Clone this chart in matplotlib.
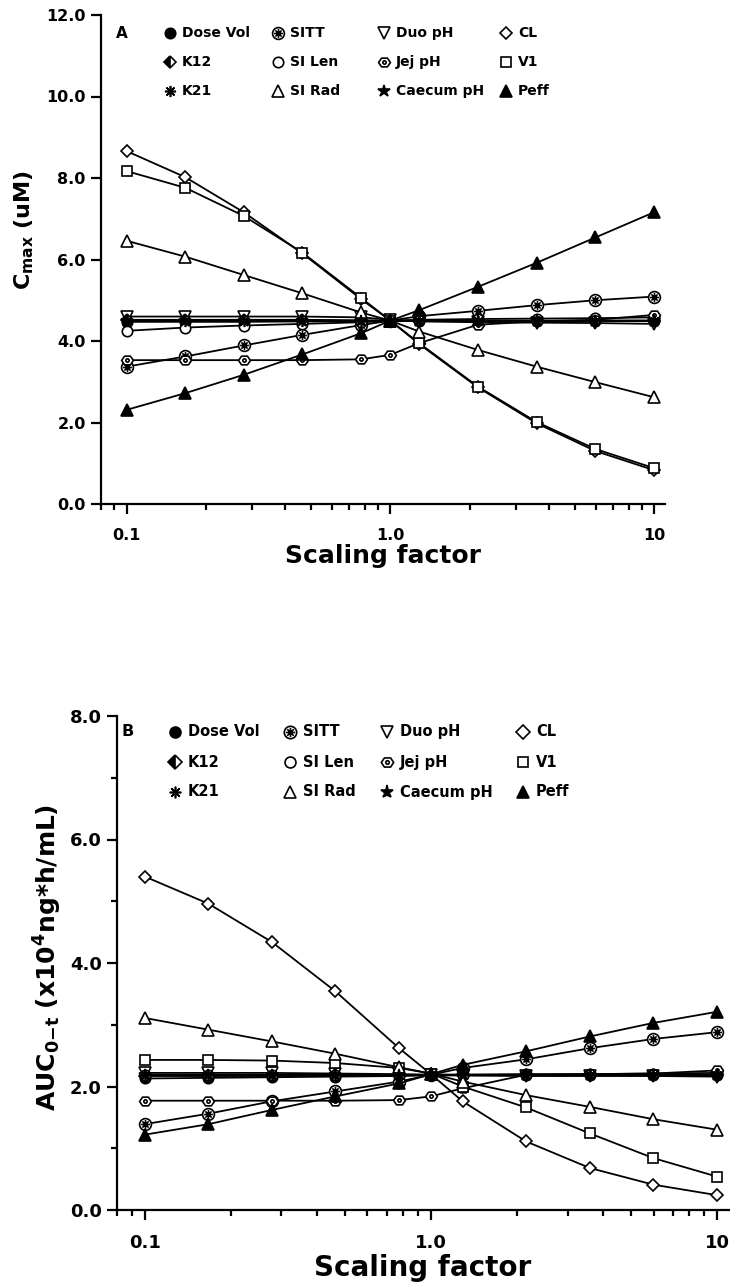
import numpy as np
import matplotlib
matplotlib.use('Agg')
import matplotlib.pyplot as plt
from matplotlib.path import Path
from matplotlib.lines import Line2D

plt.rcParams['font.family'] = ['DejaVu Sans']
plt.rcParams['font.weight'] = 'bold'
plt.rcParams['mathtext.fontset'] = 'dejavusans'

# ---------------- data ----------------
scaling = [0.1, 0.167, 0.278, 0.464, 0.774, 1.0, 1.29, 2.15, 3.59, 5.99, 10.0]
series_names = ['Dose Vol', 'SITT', 'Duo pH', 'CL',
                'K12', 'SI Len', 'Jej pH', 'V1',
                'K21', 'SI Rad', 'Caecum pH', 'Peff']

# Panel A: Cmax (uM)
cmax_dose_vol = [4.47, 4.47, 4.47, 4.48, 4.48, 4.49, 4.49, 4.49, 4.49, 4.50, 4.50]
cmax_sitt     = [3.37, 3.62, 3.89, 4.15, 4.39, 4.50, 4.61, 4.74, 4.88, 5.00, 5.09]
cmax_duo_ph   = [4.60, 4.60, 4.60, 4.60, 4.58, 4.52, 4.48, 4.46, 4.45, 4.44, 4.42]
cmax_cl       = [8.66, 8.02, 7.16, 6.15, 5.03, 4.50, 3.92, 2.86, 1.98, 1.30, 0.83]
cmax_k12      = [4.52, 4.52, 4.52, 4.52, 4.51, 4.50, 4.50, 4.50, 4.50, 4.50, 4.50]
cmax_si_len   = [4.25, 4.33, 4.38, 4.42, 4.46, 4.50, 4.52, 4.54, 4.55, 4.56, 4.58]
cmax_jej_ph   = [3.53, 3.53, 3.53, 3.53, 3.55, 3.66, 3.95, 4.40, 4.48, 4.52, 4.64]
cmax_v1       = [8.17, 7.76, 7.07, 6.17, 5.06, 4.50, 3.94, 2.88, 2.01, 1.35, 0.88]
cmax_k21      = [4.50, 4.50, 4.50, 4.50, 4.50, 4.50, 4.50, 4.50, 4.50, 4.50, 4.50]
cmax_si_rad   = [6.46, 6.07, 5.62, 5.17, 4.70, 4.50, 4.23, 3.78, 3.37, 2.99, 2.62]
cmax_caecum   = [4.49, 4.49, 4.49, 4.49, 4.49, 4.49, 4.49, 4.49, 4.49, 4.49, 4.49]
cmax_peff     = [2.31, 2.72, 3.17, 3.67, 4.19, 4.50, 4.76, 5.33, 5.92, 6.54, 7.16]

# Panel B: AUC0-t (x10^4 ng*h/mL)
auc_dose_vol = [2.13, 2.14, 2.15, 2.16, 2.17, 2.18, 2.18, 2.18, 2.18, 2.18, 2.18]
auc_sitt     = [1.39, 1.56, 1.76, 1.92, 2.08, 2.19, 2.30, 2.44, 2.62, 2.77, 2.88]
auc_duo_ph   = [2.22, 2.22, 2.22, 2.21, 2.20, 2.19, 2.18, 2.17, 2.17, 2.17, 2.16]
auc_cl       = [5.40, 4.96, 4.34, 3.54, 2.62, 2.20, 1.76, 1.11, 0.68, 0.41, 0.24]
auc_k12      = [2.17, 2.17, 2.17, 2.18, 2.18, 2.19, 2.19, 2.19, 2.19, 2.19, 2.19]
auc_si_len   = [2.19, 2.19, 2.19, 2.19, 2.19, 2.19, 2.19, 2.20, 2.20, 2.21, 2.22]
auc_jej_ph   = [1.77, 1.77, 1.77, 1.77, 1.78, 1.84, 1.97, 2.19, 2.20, 2.21, 2.26]
auc_v1       = [2.43, 2.43, 2.42, 2.38, 2.30, 2.21, 2.00, 1.66, 1.24, 0.84, 0.54]
auc_k21      = [2.18, 2.18, 2.18, 2.18, 2.18, 2.19, 2.19, 2.19, 2.19, 2.19, 2.19]
auc_si_rad   = [3.11, 2.92, 2.73, 2.53, 2.31, 2.21, 2.08, 1.86, 1.67, 1.47, 1.30]
auc_caecum   = [2.18, 2.18, 2.18, 2.18, 2.18, 2.18, 2.18, 2.18, 2.18, 2.18, 2.18]
auc_peff     = [1.22, 1.39, 1.62, 1.84, 2.05, 2.20, 2.35, 2.57, 2.81, 3.03, 3.21]

cmax_series = [cmax_dose_vol, cmax_sitt, cmax_duo_ph, cmax_cl,
               cmax_k12, cmax_si_len, cmax_jej_ph, cmax_v1,
               cmax_k21, cmax_si_rad, cmax_caecum, cmax_peff]
auc_series = [auc_dose_vol, auc_sitt, auc_duo_ph, auc_cl,
              auc_k12, auc_si_len, auc_jej_ph, auc_v1,
              auc_k21, auc_si_rad, auc_caecum, auc_peff]

x_ticks = [0.1, 1.0, 10.0]
x_ticklabels = ['0.1', '1.0', '10']
cmax_yticks = [0, 2, 4, 6, 8, 10, 12]
auc_yticks = [0, 2, 4, 6, 8]

# ---------------- custom markers ----------------
circ = Path.unit_circle()
sv, sc = [], []
for ang in (0, 45, 90, 135):
    a = np.deg2rad(ang)
    sv += [(-0.75 * np.cos(a), -0.75 * np.sin(a)), (0.75 * np.cos(a), 0.75 * np.sin(a))]
    sc += [Path.MOVETO, Path.LINETO]
sitt_marker = Path.make_compound_path(circ, Path(sv, sc))

hexv = [(np.cos(np.deg2rad(a)), 0.85 * np.sin(np.deg2rad(a))) for a in range(0, 360, 60)]
hexpath = Path(hexv + [hexv[0]], [Path.MOVETO] + [Path.LINETO] * 5 + [Path.CLOSEPOLY])
jej_marker = Path.make_compound_path(hexpath, Path.circle((0, 0), 0.28))

styles = {
    'Dose Vol': dict(marker='o', markerfacecolor='black', markersize=7.5),
    'SITT': dict(marker=sitt_marker, markerfacecolor='white', markersize=8.5),
    'Duo pH': dict(marker='v', markerfacecolor='white', markersize=8),
    'CL': dict(marker='D', markerfacecolor='white', markersize=6.5),
    'K12': dict(marker='D', fillstyle='left', markerfacecolor='black',
                markerfacecoloralt='white', markersize=6.5),
    'SI Len': dict(marker='o', markerfacecolor='white', markersize=7.5),
    'Jej pH': dict(marker=jej_marker, markerfacecolor='white', markersize=8.5),
    'V1': dict(marker='s', markerfacecolor='white', markersize=7.5),
    'K21': dict(marker=(8, 2, 0), markersize=8),
    'SI Rad': dict(marker='^', markerfacecolor='white', markersize=8.5),
    'Caecum pH': dict(marker='*', markerfacecolor='black', markersize=9),
    'Peff': dict(marker='^', markerfacecolor='black', markersize=8.5),
}

# ---------------- figure ----------------
W, H = 730, 1287
fig = plt.figure(figsize=(W / 100, H / 100), dpi=100)


def fx(x):
    return x / W


def fy(y):
    return 1 - y / H


axA = fig.add_axes([fx(101), fy(504), fx(665) - fx(101), fy(15) - fy(504)])
axB = fig.add_axes([fx(117), fy(1210), fx(729) - fx(117), fy(716) - fy(1210)])


def style_axis(ax, ylim, yticks, yminor, tick_fs):
    ax.set_xscale('log')
    ax.set_xlim(0.08, 11)
    ax.set_ylim(*ylim)
    for s in ('top', 'right'):
        ax.spines[s].set_visible(False)
    for s in ('left', 'bottom'):
        ax.spines[s].set_linewidth(1.6)
    ax.set_xticks(x_ticks)
    ax.set_xticklabels(x_ticklabels)
    ax.xaxis.set_minor_locator(matplotlib.ticker.LogLocator(base=10, subs=np.arange(2, 10)))
    ax.xaxis.set_minor_formatter(matplotlib.ticker.NullFormatter())
    ax.set_yticks(yticks)
    ax.set_yticklabels(['%.1f' % v for v in yticks])
    if yminor is not None:
        ax.set_yticks(yminor, minor=True)
    ax.tick_params(axis='both', which='major', direction='out', width=1.6,
                   length=7, labelsize=tick_fs, pad=4)
    ax.tick_params(axis='both', which='minor', direction='out', width=1.6, length=4)
    ax.tick_params(axis='x', which='major', pad=10)
    for lab in ax.get_xticklabels() + ax.get_yticklabels():
        lab.set_fontweight('bold')


style_axis(axA, (0, 12), cmax_yticks, None, 11.5)
style_axis(axB, (0, 8), auc_yticks, [1, 3, 5, 7], 13)

for name, vals in zip(series_names, cmax_series):
    axA.plot(scaling, vals, color='black', lw=1.3, markeredgecolor='black',
             markeredgewidth=1.2, clip_on=False, **styles[name])
for name, vals in zip(series_names, auc_series):
    axB.plot(scaling, vals, color='black', lw=1.3, markeredgecolor='black',
             markeredgewidth=1.2, clip_on=False, **styles[name])

# axis labels
fig.text(fx(383), fy(556), 'Scaling factor', fontsize=18, fontweight='bold',
         ha='center', va='center')
fig.text(fx(423), fy(1268), 'Scaling factor', fontsize=20, fontweight='bold',
         ha='center', va='center')
fig.text(fx(24), fy(230), r'$\mathbf{C_{max}}$ (uM)', fontsize=16, fontweight='bold',
         rotation=90, ha='center', va='center')
fig.text(fx(48), fy(957), r'$\mathbf{AUC_{0{-}t}}$ (x10$^{\mathbf{4}}$ng*h/mL)', fontsize=18,
         fontweight='bold', rotation=90, ha='center', va='center')


# legends
def draw_legend(panel_label, label_x, rows_y, col_x, text_dx, fs, ms_scale):
    fig.text(fx(label_x), fy(rows_y[0]), panel_label, fontsize=fs + 1, fontweight='bold',
             ha='center', va='center')
    for i, name in enumerate(series_names):
        r, c = divmod(i, 4)
        x, y = col_x[c], rows_y[r]
        st = dict(styles[name])
        st['markersize'] = st['markersize'] * ms_scale
        fig.add_artist(Line2D([fx(x)], [fy(y)], transform=fig.transFigure,
                              linestyle='none', color='black', markeredgecolor='black',
                              markeredgewidth=1.2, **st))
        fig.text(fx(x + text_dx), fy(y), name, fontsize=fs, fontweight='bold',
                 ha='left', va='center')


draw_legend('A', 122, [33, 62, 91], [170, 278, 384, 506], 12, 10, 1.0)
draw_legend('B', 128, [732, 762, 792], [175, 290, 387, 523], 13, 10.5, 1.05)

fig.savefig('out.png', dpi=100)
